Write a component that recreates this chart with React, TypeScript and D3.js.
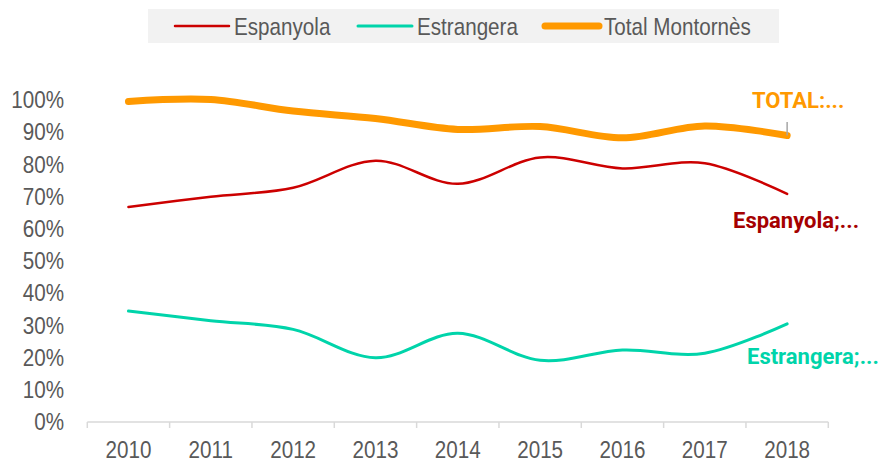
import React from "react";
import * as d3 from "d3";

const years = ["2010", "2011", "2012", "2013", "2014", "2015", "2016", "2017", "2018"];
const espanyola = [66.6, 69.8, 72.6, 81.0, 73.8, 82.0, 78.6, 80.2, 70.7];
const estrangera = [34.3, 31.3, 28.6, 19.8, 27.4, 19.0, 22.2, 21.2, 30.3];
const total = [99.4, 100, 96.4, 94.1, 90.7, 91.6, 88.1, 91.8, 88.8];
const yTicks = [0, 10, 20, 30, 40, 50, 60, 70, 80, 90, 100];

const W = 886;
const H = 462;
const FONT = "'Liberation Sans', Arial, sans-serif";
const LFONT = "Roboto, sans-serif";
const SX = 0.86;

function NText(props: {
  x: number;
  y: number;
  anchor?: string;
  size: number;
  fill: string;
  children: string;
  dy?: string;
}) {
  const { x, y, anchor, size, fill, children, dy } = props;
  return (
    <text
      transform={`translate(${x},${y}) scale(${SX},1)`}
      textAnchor={anchor || "start"}
      dy={dy}
      fontFamily={FONT}
      fontSize={size}
      fill={fill}
    >
      {children}
    </text>
  );
}

export default function App() {
  const x = d3.scaleBand<string>().domain(years).range([87.3, 828.3]);
  const y = d3.scaleLinear().domain([0, 100]).range([421.5, 99.5]);
  const cx = (yr: string) => (x(yr) as number) + x.bandwidth() / 2;
  const line = d3
    .line<number>()
    .x((_, i) => cx(years[i]))
    .y((d) => y(d))
    .curve(d3.curveCatmullRom.alpha(0));

  const series = [
    { name: "Espanyola", data: espanyola, color: "#CC0000", width: 2.5 },
    { name: "Estrangera", data: estrangera, color: "#00D4AA", width: 3 },
    { name: "Total Montornès", data: total, color: "#FF9900", width: 7 },
  ];
  const legendX = [175, 358, 545];

  const ticksX = [...years.map((yr) => x(yr) as number), 828.3];

  return (
    <svg
      width={W}
      height={H}
      style={{ position: "absolute", left: 0, top: 0, background: "#fff" }}
    >
      {/* legend */}
      <rect x={148} y={9} width={631} height={34} fill="#F2F2F2" />
      {series.map((s, i) => (
        <g key={s.name}>
          <line
            x1={legendX[i]}
            x2={legendX[i] + 54}
            y1={26}
            y2={26}
            stroke={s.color}
            strokeWidth={s.width}
            strokeLinecap="round"
          />
          <NText x={legendX[i] + 59} y={35} size={24} fill="#595959">
            {s.name}
          </NText>
        </g>
      ))}

      {/* y tick labels */}
      {yTicks.map((t) => (
        <NText key={t} x={64} y={y(t)} dy="0.36em" anchor="end" size={24} fill="#595959">
          {t + "%"}
        </NText>
      ))}

      {/* x axis */}
      <line x1={87.3} x2={828.3} y1={422} y2={422} stroke="#D9D9D9" strokeWidth={1.5} />
      {ticksX.map((tx, i) => (
        <line key={i} x1={tx} x2={tx} y1={422} y2={428} stroke="#D9D9D9" strokeWidth={1.5} />
      ))}
      {years.map((yr) => (
        <NText key={yr} x={cx(yr)} y={458} anchor="middle" size={24} fill="#595959">
          {yr}
        </NText>
      ))}

      {/* lines */}
      {series.map((s) => (
        <path
          key={s.name}
          d={line(s.data) || ""}
          fill="none"
          stroke={s.color}
          strokeWidth={s.width}
          strokeLinecap="round"
          strokeLinejoin="round"
        />
      ))}

      {/* data labels */}
      <line
        x1={cx("2018")}
        x2={cx("2018")}
        y1={122}
        y2={y(total[8])}
        stroke="#A6A6A6"
        strokeWidth={1.5}
      />
      <text x={752} y={108} fontFamily={LFONT} fontWeight="bold" fontSize={22} fill="#FF9900">
        TOTAL:...
      </text>
      <text x={733} y={228} fontFamily={LFONT} fontWeight="bold" fontSize={22} fill="#A50000">
        Espanyola;...
      </text>
      <text x={747} y={364} fontFamily={LFONT} fontWeight="bold" fontSize={22} fill="#00D4AA">
        Estrangera;...
      </text>
    </svg>
  );
}
